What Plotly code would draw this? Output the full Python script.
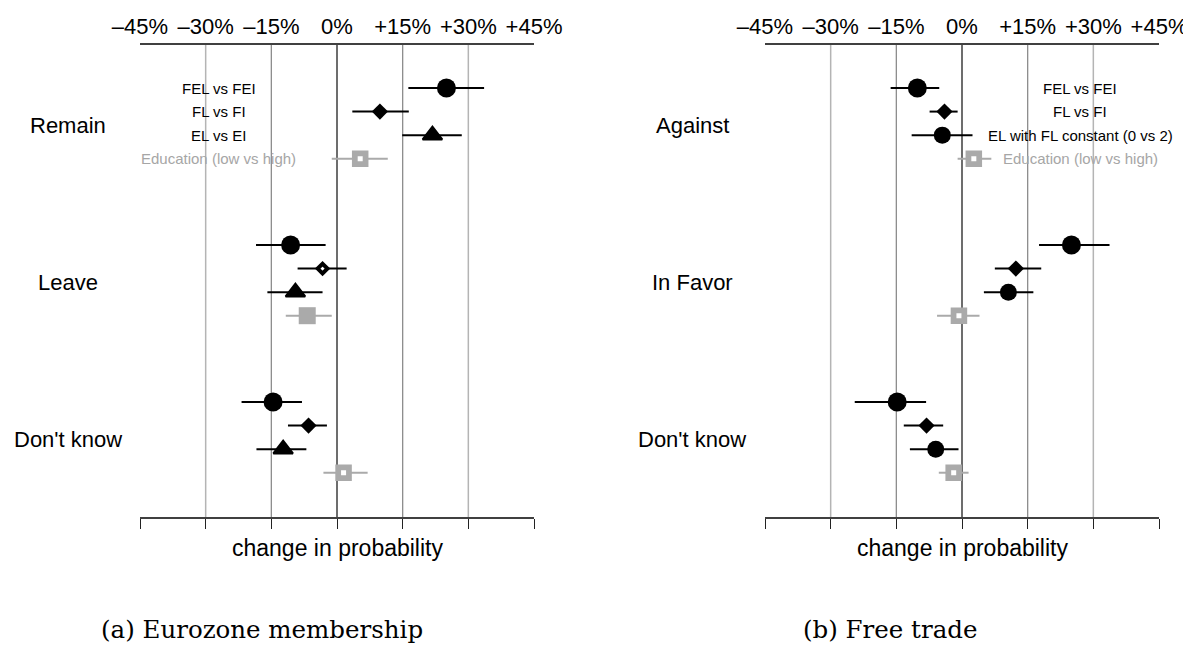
import plotly.graph_objects as go

PAGE_W, PAGE_H = 1191, 658
OFF = 8  # default body margin of the html page
W, H = PAGE_W - OFF, PAGE_H - 2 * OFF

# ---------------- data ----------------
tick_vals = [-45, -30, -15, 0, 15, 30, 45]
tick_text = ["\u201345%", "\u201330%", "\u201315%", "0%", "+15%", "+30%", "+45%"]
axis_title = "change in probability"

# Panel (a) Eurozone membership
a_caption = "(a) Eurozone membership"
a_groups = ["Remain", "Leave", "Don't know"]
a_labels = ["FEL vs FEI", "FL vs FI", "EL vs EI", "Education (low vs high)"]
a_fel_est = [25.0, -10.6, -14.6]
a_fel_lo = [16.3, -18.5, -21.8]
a_fel_hi = [33.6, -2.6, -8.0]
a_fl_est = [9.8, -3.3, -6.5]
a_fl_lo = [3.5, -9.0, -11.2]
a_fl_hi = [16.4, 2.2, -2.3]
a_el_est = [21.8, -9.5, -12.3]
a_el_lo = [14.9, -15.9, -18.4]
a_el_hi = [28.5, -3.3, -7.0]
a_edu_est = [5.3, -6.8, 1.5]
a_edu_lo = [-1.2, -11.7, -3.1]
a_edu_hi = [11.6, -1.2, 7.0]
a_fl_open = [False, True, False]
a_edu_open = [True, False, True]

# Panel (b) Free trade
b_caption = "(b) Free trade"
b_groups = ["Against", "In Favor", "Don't know"]
b_labels = ["FEL vs FEI", "FL vs FI", "EL with FL constant (0 vs 2)", "Education (low vs high)"]
b_fel_est = [-10.2, 25.0, -14.8]
b_fel_lo = [-16.3, 17.6, -24.5]
b_fel_hi = [-5.2, 33.7, -8.2]
b_fl_est = [-4.0, 12.3, -8.1]
b_fl_lo = [-7.4, 7.5, -13.3]
b_fl_hi = [-1.0, 18.1, -4.3]
b_el_est = [-4.5, 10.6, -6.0]
b_el_lo = [-11.5, 5.0, -11.9]
b_el_hi = [2.4, 16.3, -0.8]
b_edu_est = [2.7, -0.7, -1.9]
b_edu_lo = [-1.0, -5.7, -5.3]
b_edu_hi = [6.7, 4.0, 1.5]
b_fl_open = [False, False, False]
b_edu_open = [True, True, True]

# ---------------- styling ----------------
SANS = "Liberation Sans, Arial, sans-serif"
SERIF = "DejaVu Serif, serif"
BLACK = "#000000"
GRAY = "#aaaaaa"
GRAY_TXT = "#a6a6a6"
ITEM_STEP = 0.15
LABEL_X = 27


def fx(px):
    return (px - OFF) / W


def fy(px):
    return 1 - (px - OFF) / H


fig = go.Figure()


def marker_for(kind, n, open_flags=None):
    if open_flags is None:
        open_flags = [False] * n
    if kind == "circle":
        m = dict(symbol="circle", size=19, color=BLACK, line=dict(width=0))
    elif kind == "circle_small":
        m = dict(symbol="circle", size=17, color=BLACK, line=dict(width=0))
    elif kind == "triangle":
        m = dict(symbol="triangle-up", size=17, color=BLACK, line=dict(width=2, color=BLACK))
    elif kind == "diamond":
        m = dict(symbol="diamond",
                 size=[7.5 if o else 12.5 for o in open_flags],
                 color=["white" if o else BLACK for o in open_flags],
                 line=dict(width=[4 if o else 0 for o in open_flags], color=BLACK))
    else:
        m = dict(symbol="square",
                 size=[10.75 if o else 17 for o in open_flags],
                 color=["white" if o else GRAY for o in open_flags],
                 line=dict(width=[5.75 if o else 0 for o in open_flags], color=GRAY))
    m["opacity"] = 1
    return m


def add_panel(xa, ya, groups, labels, items, label_side):
    for i, (est, lo, hi, kind, col, flags) in enumerate(items):
        ys = [g + i * ITEM_STEP for g in range(len(groups))]
        fig.add_trace(go.Scatter(
            x=est, y=ys, mode="markers", xaxis=xa, yaxis=ya, showlegend=False,
            marker=marker_for(kind, len(est), flags),
            error_x=dict(type="data", symmetric=False,
                         array=[h - e for h, e in zip(hi, est)],
                         arrayminus=[e - l for e, l in zip(est, lo)],
                         color=col, thickness=2, width=0),
            hoverinfo="x",
        ))
        fig.add_annotation(x=label_side * LABEL_X, y=i * ITEM_STEP, xref=xa, yref=ya,
                           text=labels[i], showarrow=False, xanchor="center", yanchor="middle",
                           font=dict(family=SANS, size=15,
                                     color=GRAY_TXT if i == 3 else BLACK))


add_panel("x", "y", a_groups, a_labels, [
    (a_fel_est, a_fel_lo, a_fel_hi, "circle", BLACK, None),
    (a_fl_est, a_fl_lo, a_fl_hi, "diamond", BLACK, a_fl_open),
    (a_el_est, a_el_lo, a_el_hi, "triangle", BLACK, None),
    (a_edu_est, a_edu_lo, a_edu_hi, "square", GRAY, a_edu_open),
], -1)

add_panel("x2", "y2", b_groups, b_labels, [
    (b_fel_est, b_fel_lo, b_fel_hi, "circle", BLACK, None),
    (b_fl_est, b_fl_lo, b_fl_hi, "diamond", BLACK, b_fl_open),
    (b_el_est, b_el_lo, b_el_hi, "circle_small", BLACK, None),
    (b_edu_est, b_edu_lo, b_edu_hi, "square", GRAY, b_edu_open),
], 1)

# dummy traces so the top axes are drawn
fig.add_trace(go.Scatter(x=[None], y=[None], xaxis="x3", yaxis="y", showlegend=False))
fig.add_trace(go.Scatter(x=[None], y=[None], xaxis="x4", yaxis="y2", showlegend=False))

# gridlines
grid_style = {-30: ("#b4b4b4", 1.5), -15: ("#8c8c8c", 1.3), 0: ("#3c3c3c", 1.5),
              15: ("#8c8c8c", 1.3), 30: ("#b4b4b4", 1.5)}
for xa, ya in (("x", "y"), ("x2", "y2")):
    for v in tick_vals[1:-1]:
        c, w = grid_style[v]
        fig.add_shape(type="line", xref=xa, yref=ya + " domain", x0=v, x1=v, y0=0, y1=1,
                      line=dict(color=c, width=w), layer="below")

# group labels
for groups, xp, ya in ((a_groups, 68, "y"), (b_groups, 692, "y2")):
    for g, name in enumerate(groups):
        fig.add_annotation(x=fx(xp), y=g + 0.24, xref="paper", yref=ya, text=name,
                           showarrow=False, xanchor="center", yanchor="middle",
                           font=dict(family=SANS, size=22, color=BLACK))

# axis titles and captions
for xa in ("x", "x2"):
    fig.add_annotation(x=0.5, y=fy(548), xref=xa + " domain", yref="paper",
                       text=axis_title, showarrow=False, xanchor="center", yanchor="middle",
                       font=dict(family=SANS, size=23, color=BLACK))
for cap, cx in ((a_caption, 262), (b_caption, 890)):
    fig.add_annotation(x=fx(cx), y=fy(629), xref="paper", yref="paper", text=cap,
                       showarrow=False, xanchor="center", yanchor="middle",
                       font=dict(family=SERIF, size=24.5, color=BLACK))

ydom = [fy(517), fy(45)]
yrange = [2.732, -0.274]

bottom_axis = dict(range=[-45, 45], showline=True, linecolor="#404040", linewidth=1.5,
                   ticks="outside", ticklen=10, tickwidth=1.3, tickcolor="#222222",
                   tickvals=tick_vals, showticklabels=False, showgrid=False, zeroline=False,
                   fixedrange=True, automargin=False)
top_axis = dict(range=[-45, 45], side="top", showline=True, linecolor="#404040", linewidth=1.5,
                ticks="", tickvals=tick_vals, ticktext=tick_text, ticklabelstandoff=0,
                ticklabeloverflow="allow",
                tickfont=dict(family=SANS, size=22, color=BLACK),
                showgrid=False, zeroline=False, fixedrange=True, automargin=False)

fig.update_layout(
    width=W, height=H, margin=dict(l=0, r=0, t=0, b=0, pad=0, autoexpand=False),
    paper_bgcolor="white", plot_bgcolor="white",
    xaxis=dict(domain=[fx(140), fx(534)], anchor="y", **bottom_axis),
    xaxis2=dict(domain=[fx(765), fx(1159)], anchor="y2", **bottom_axis),
    xaxis3=dict(overlaying="x", anchor="y", **top_axis),
    xaxis4=dict(overlaying="x2", anchor="y2", **top_axis),
    yaxis=dict(domain=ydom, range=yrange, visible=False, anchor="x", fixedrange=True,
               automargin=False),
    yaxis2=dict(domain=ydom, range=yrange, visible=False, anchor="x2", fixedrange=True,
                automargin=False),
)

fig.write_html("out.html")
